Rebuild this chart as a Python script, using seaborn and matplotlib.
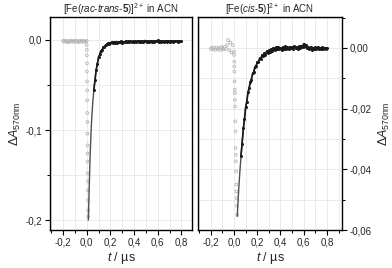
import numpy as np
import pandas as pd
import matplotlib
matplotlib.use("Agg")
import matplotlib.pyplot as plt
import matplotlib.ticker as mticker
import seaborn as sns

# time base of the recovery traces (µs)
black_t = [0.06, 0.07, 0.08, 0.09, 0.10, 0.11, 0.12, 0.13, 0.14, 0.15,
           0.16, 0.17, 0.18, 0.19, 0.20, 0.21, 0.22, 0.23, 0.24, 0.25,
           0.26, 0.27, 0.28, 0.29, 0.30, 0.31, 0.32, 0.33, 0.34, 0.35,
           0.36, 0.37, 0.38, 0.39, 0.40, 0.41, 0.42, 0.43, 0.44, 0.45,
           0.46, 0.47, 0.48, 0.49, 0.50, 0.51, 0.52, 0.53, 0.54, 0.55,
           0.56, 0.57, 0.58, 0.59, 0.60, 0.61, 0.62, 0.63, 0.64, 0.65,
           0.66, 0.67, 0.68, 0.69, 0.70, 0.71, 0.72, 0.73, 0.74, 0.75,
           0.76, 0.77, 0.78, 0.79, 0.80]
pre_t = [-0.20, -0.19, -0.18, -0.17, -0.16, -0.15, -0.14, -0.13, -0.12, -0.11,
         -0.10, -0.09, -0.08, -0.07, -0.06, -0.05, -0.04, -0.03, -0.02, -0.01, 0.00]

# left panel: [Fe(rac-trans-5)]2+
left_pre = [-0.0010, -0.0020, -0.0005, -0.0015, -0.0025, -0.0010, -0.0020, -0.0008,
            -0.0018, -0.0012, -0.0022, -0.0006, -0.0016, -0.0024, -0.0010, -0.0019,
            -0.0007, -0.0021, -0.0013, -0.0017, -0.0011]
left_drop_t = [0.000, 0.001, 0.001, 0.002, 0.002, 0.003, 0.004, 0.004, 0.005, 0.006,
               0.006, 0.007, 0.008, 0.008, 0.009, 0.010, 0.011, 0.011, 0.012, 0.013]
left_drop = [-0.0056, -0.011, -0.017, -0.026, -0.035, -0.046, -0.056, -0.067, -0.081, -0.091,
             -0.104, -0.117, -0.126, -0.135, -0.148, -0.157, -0.167, -0.178, -0.189, -0.196]
left_black = [-0.056, -0.045, -0.033, -0.027, -0.019, -0.016, -0.012, -0.011, -0.008, -0.0075,
              -0.0055, -0.0050, -0.0035, -0.0042, -0.0030, -0.0025, -0.0038, -0.0022, -0.0030, -0.0018,
              -0.0033, -0.0020, -0.0027, -0.0015, -0.0029, -0.0019, -0.0024, -0.0012, -0.0028, -0.0017,
              -0.0025, -0.0011, -0.0022, -0.0016, -0.0026, -0.0013, -0.0020, -0.0009, -0.0023, -0.0015,
              -0.0021, -0.0010, -0.0019, -0.0006, -0.0017, -0.0024, -0.0012, -0.0019, -0.0008, -0.0020,
              -0.0014, -0.0022, -0.0010, -0.0017, -0.0005, -0.0018, -0.0011, -0.0021, -0.0013, -0.0019,
              -0.0009, -0.0016, -0.0023, -0.0012, -0.0018, -0.0008, -0.0015, -0.0021, -0.0011, -0.0017,
              -0.0009, -0.0019, -0.0012, -0.0016, -0.0010]
left_fit_t = [0.014, 0.02, 0.03, 0.04, 0.05, 0.06, 0.07, 0.08, 0.09, 0.10, 0.12,
              0.14, 0.16, 0.18, 0.20, 0.25, 0.30, 0.40, 0.50, 0.60, 0.70, 0.80]
left_fit = [-0.200, -0.170, -0.125, -0.093, -0.072, -0.056, -0.044, -0.034, -0.026, -0.020, -0.013,
            -0.0085, -0.0058, -0.0042, -0.0032, -0.0024, -0.0020, -0.0017, -0.0016, -0.0015, -0.0015, -0.0015]

# right panel: [Fe(cis-5)]2+
right_pre = [-0.0003, 0.0002, -0.0005, 0.0000, -0.0006, 0.0001, -0.0004, -0.0001, -0.0007, 0.0003,
             -0.0002, -0.0005, 0.0004, -0.0003, 0.0010, 0.0026, -0.0008, 0.0018, -0.0015, 0.0009, -0.0012]
right_drop_t = [0.001, 0.002, 0.003, 0.004, 0.005, 0.006, 0.007, 0.008, 0.009, 0.010,
                0.012, 0.013, 0.015, 0.016, 0.018, 0.020, 0.022, 0.024, 0.026, 0.028]
right_drop = [-0.0023, -0.0045, -0.0061, -0.0078, -0.0110, -0.0138, -0.0149, -0.0171, -0.0193, -0.0242,
              -0.0275, -0.0330, -0.0352, -0.0374, -0.0407, -0.0450, -0.0473, -0.0495, -0.0520, -0.0550]
right_black = [-0.0355, -0.0315, -0.0265, -0.0235, -0.0195, -0.0178, -0.0146, -0.0133, -0.0112, -0.0104,
               -0.0084, -0.0080, -0.0062, -0.0060, -0.0046, -0.0047, -0.0034, -0.0036, -0.0024, -0.0028,
               -0.0017, -0.0022, -0.0011, -0.0016, -0.0008, -0.0013, -0.0003, -0.0010, 0.0001, -0.0007,
               0.0002, -0.0005, 0.0004, -0.0004, 0.0001, -0.0006, 0.0003, -0.0002, 0.0005, -0.0003,
               0.0002, -0.0005, 0.0004, -0.0001, 0.0003, -0.0004, 0.0006, 0.0000, 0.0003, -0.0002,
               0.0005, 0.0001, 0.0008, 0.0003, 0.0014, 0.0005, 0.0009, -0.0001, 0.0004, -0.0003,
               0.0002, -0.0006, 0.0001, -0.0004, 0.0002, -0.0003, 0.0003, -0.0005, 0.0000, -0.0004,
               0.0002, -0.0003, 0.0001, -0.0004, 0.0000]
right_fit_t = [0.028, 0.03, 0.04, 0.05, 0.06, 0.07, 0.08, 0.10, 0.12, 0.14,
               0.16, 0.18, 0.20, 0.25, 0.30, 0.35, 0.40, 0.50, 0.60, 0.80]
right_fit = [-0.0555, -0.054, -0.047, -0.041, -0.036, -0.031, -0.027, -0.020, -0.015, -0.0115,
             -0.0088, -0.0066, -0.0050, -0.0025, -0.0012, -0.0006, -0.0003, -0.0001, 0.0, 0.0]

sns.set_style("ticks")
plt.rcParams['font.family'] = ['Liberation Sans', 'DejaVu Sans']
plt.rcParams['mathtext.fontset'] = 'custom'
plt.rcParams['mathtext.rm'] = 'Liberation Sans'
plt.rcParams['mathtext.it'] = 'Liberation Sans:italic'
plt.rcParams['mathtext.bf'] = 'Liberation Sans:bold'


def comma_fmt(nd):
    def f(v, pos):
        if abs(v) < 1e-9:
            v = 0.0
        return f"{v:.{nd}f}".replace('.', ',')
    return mticker.FuncFormatter(f)


def draw_panel(ax, pre, drop_t, drop, black, fit_t, fit):
    gray = pd.DataFrame({'t': list(pre_t) + list(drop_t), 'A': list(pre) + list(drop)})
    sns.scatterplot(data=gray, x='t', y='A', ax=ax, marker='o', s=4,
                    facecolor='none', edgecolor='#b4b4b4', linewidth=0.6, zorder=2)
    sns.lineplot(x=fit_t, y=fit, ax=ax, color='#505050', lw=1.0, zorder=3)
    sns.lineplot(x=black_t, y=black, ax=ax, color='#1a1a1a', lw=1.2,
                 marker='o', markersize=2.2, markeredgewidth=0, zorder=4)
    ax.grid(True, which='both', color='#e8e8e8', lw=0.6)
    ax.set_axisbelow(True)
    for s in ax.spines.values():
        s.set_visible(True)
        s.set_color('black')
        s.set_linewidth(1.0)
    ax.xaxis.set_major_locator(mticker.MultipleLocator(0.2))
    ax.xaxis.set_minor_locator(mticker.MultipleLocator(0.1))
    ax.xaxis.set_major_formatter(comma_fmt(1))
    ax.tick_params(which='major', direction='out', length=3.5, width=0.8, labelsize=7, pad=2,
                   color='black')
    ax.tick_params(which='minor', direction='out', length=2, width=0.7, color='black')
    ax.set_xlabel(r"$\it{t}$ / µs", fontsize=9, labelpad=2)
    ax.set_ylabel(r"$\Delta\it{A}_{\rm{570nm}}$", fontsize=9, labelpad=2)


fig = plt.figure(figsize=(3.92, 2.68), dpi=100)
ax1 = fig.add_axes([50 / 392, 1 - 230 / 268, 142 / 392, 213 / 268])
ax2 = fig.add_axes([198 / 392, 1 - 230 / 268, 144 / 392, 213 / 268])

draw_panel(ax1, left_pre, left_drop_t, left_drop, left_black, left_fit_t, left_fit)
ax1.set_xlim(-0.31, 0.89)
ax1.set_ylim(-0.211, 0.0255)
ax1.yaxis.set_major_locator(mticker.MultipleLocator(0.1))
ax1.yaxis.set_minor_locator(mticker.MultipleLocator(0.05))
ax1.yaxis.set_major_formatter(comma_fmt(1))
ax1.tick_params(axis='y', which='both', left=True, right=False)
ax1.tick_params(axis='x', which='both', bottom=True, top=False)
ax1.set_title(r"[Fe($\it{rac}$-$\it{trans}$-$\bf{5}$)]$^{2+}$ in ACN", fontsize=7, pad=3)

draw_panel(ax2, right_pre, right_drop_t, right_drop, right_black, right_fit_t, right_fit)
ax2.set_xlim(-0.31, 0.93)
ax2.set_ylim(-0.06, 0.0102)
ax2.yaxis.set_major_locator(mticker.MultipleLocator(0.02))
ax2.yaxis.set_minor_locator(mticker.MultipleLocator(0.01))
ax2.yaxis.set_major_formatter(comma_fmt(2))
ax2.yaxis.tick_right()
ax2.tick_params(axis='y', which='both', left=False, right=True)
ax2.tick_params(axis='x', which='both', bottom=True, top=False)
ax2.yaxis.set_label_position('right')
ax2.set_ylabel(r"$\Delta\it{A}_{\rm{570nm}}$", fontsize=9, labelpad=4, rotation=90)
ax2.set_title(r"[Fe($\it{cis}$-$\bf{5}$)]$^{2+}$ in ACN", fontsize=7, pad=3)

fig.savefig("out.png", dpi=100)
